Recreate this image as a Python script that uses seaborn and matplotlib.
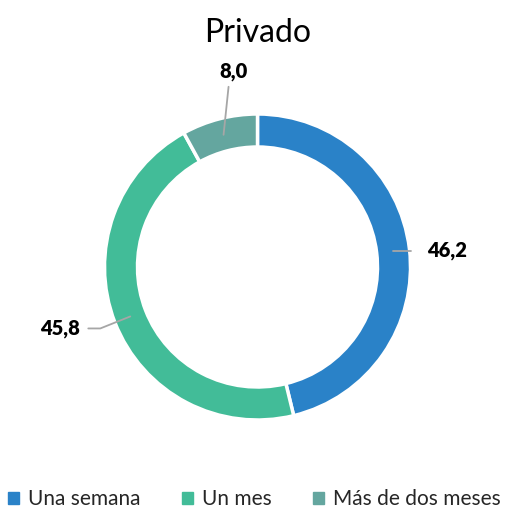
import numpy as np
import matplotlib
matplotlib.use("Agg")
import matplotlib.pyplot as plt
import seaborn as sns

# ── data ─────────────────────────────────────────────────
categories = ["Una semana", "Un mes", "Más de dos meses"]
values     = [46.2, 45.8, 8.0]
labels     = ["46,2", "45,8", "8,0"]
colors     = ["#2A82C8", "#42BC98", "#64A69F"]

sns.set_theme(style="white")
plt.rcParams["font.family"] = ["Lato", "DejaVu Sans"]

W, H = 509, 508
fig = plt.figure(figsize=(W/100, H/100), dpi=100)
ax  = fig.add_axes([0, 0, 1, 1])

cx, cy, R, w = 257.5, H - 267, 153, 33
pal = sns.color_palette(colors)
wedges, _ = ax.pie(values, colors=pal, startangle=90, counterclock=False,
                   center=(cx, cy), radius=R, frame=True,
                   wedgeprops=dict(width=w, edgecolor="white", linewidth=2.5))
ax.set_xlim(0, W); ax.set_ylim(0, H); ax.set_aspect("equal"); ax.axis("off")

# leader lines: segments (px offsets) from ring middle, then text offset
leaders = [([(18, 0)],              (16, 0), "left"),
           ([(-30, -12), (-12, 0)], (-8, 0), "right"),
           ([(5, 48)],              (5, 15), "center")]
for wdg, lab, (segs, toff, ha) in zip(wedges, labels, leaders):
    ang = np.deg2rad((wdg.theta1 + wdg.theta2) / 2)
    r0  = R - w/2
    pts = [(cx + r0*np.cos(ang), cy + r0*np.sin(ang))]
    for dx, dy in segs:
        pts.append((pts[-1][0] + dx, pts[-1][1] + dy))
    xs, ys = zip(*pts)
    ax.plot(xs, ys, color="#A6A6A6", lw=1.3)
    ax.text(xs[-1] + toff[0], ys[-1] + toff[1], lab, ha=ha, va="center",
            fontsize=14.5, fontweight="heavy", color="black")

ax.text(cx, H - 33, "Privado", ha="center", va="center", fontsize=23, color="black")

handles = [plt.Rectangle((0, 0), 1, 1, color=c) for c in pal]
fig.legend(handles, categories, loc="center", bbox_to_anchor=(0.5, 1 - 499/H),
           ncol=3, frameon=False, fontsize=15, handlelength=0.5, handleheight=0.5,
           handletextpad=0.45, columnspacing=2.0)

fig.savefig("out.png", dpi=100)
